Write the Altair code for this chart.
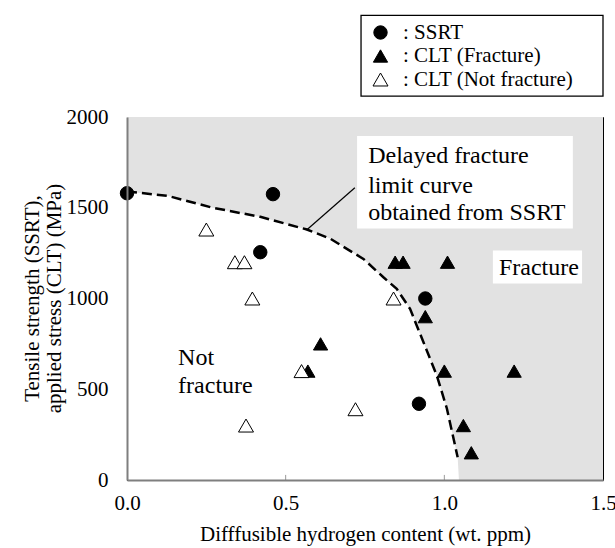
import altair as alt
import pandas as pd

FONT = "serif"

# ---- data ----
ssrt_x = [0.0, 0.46, 0.42, 0.94, 0.92]
ssrt_y = [1580, 1575, 1255, 1000, 420]
cltf_x = [0.845, 0.87, 1.01, 0.94, 0.61, 0.57, 1.0, 1.22, 1.06, 1.085]
cltf_y = [1200, 1200, 1200, 900, 750, 600, 600, 600, 300, 150]
cltn_x = [0.25, 0.34, 0.37, 0.395, 0.84, 0.55, 0.72, 0.375]
cltn_y = [1380, 1200, 1200, 1000, 1000, 600, 390, 300]

curve_x = [0.0, 0.13, 0.27, 0.42, 0.567, 0.64, 0.745, 0.808, 0.85, 0.892, 0.934, 0.976,
           1.008, 1.042]
curve_y = [1590, 1565, 1500, 1450, 1380, 1330, 1218, 1117, 1053, 943, 760, 577,
           394, 125]
hatch_x = curve_x + [1.046, 1.5]
hatch_y = curve_y + [0, 0]

series_names = ["SSRT", "CLT (Fracture)", "CLT (Not fracture)"]
x_ticks = [0.0, 0.5, 1.0, 1.5]
y_ticks = [0, 500, 1000, 1500, 2000]

pts = pd.DataFrame(
    {"x": ssrt_x + cltf_x + cltn_x,
     "y": ssrt_y + cltf_y + cltn_y,
     "series": [series_names[0]] * len(ssrt_x)
     + [series_names[1]] * len(cltf_x)
     + [series_names[2]] * len(cltn_x)}
)
curve = pd.DataFrame({"x": curve_x, "y": curve_y})
hatch = pd.DataFrame({"x": hatch_x, "y": hatch_y, "top": [2000] * len(hatch_x)})

boxes = pd.DataFrame({"x": [0.725, 1.153], "x2": [1.405, 1.434],
                      "y": [1385, 1082], "y2": [1896, 1264]})
legend_frame = pd.DataFrame({"x": [0.7375], "x2": [1.5], "y": [2115], "y2": [2560]})
leader = pd.DataFrame({"x": [0.566], "x2": [0.718], "y": [1377], "y2": [1610]})
labels = pd.DataFrame({
    "x": [0.76, 0.76, 0.76, 1.172, 0.161, 0.161],
    "y": [1786, 1621, 1473, 1170, 670, 516],
    "t": ["Delayed fracture", "limit curve", "obtained from SSRT", "Fracture",
          "Not", "fracture"],
})
tick_df = pd.DataFrame({"x": [0.5, 1.0], "y": [0, 0], "y2": [28, 28]})

xs = alt.Scale(domain=[0, 1.5], nice=False)
ys = alt.Scale(domain=[0, 2000], nice=False)

x_axis = alt.Axis(values=x_ticks, format=".1f", grid=False, ticks=False, tickSize=0,
                  labelFlush=False, labelOverlap=False,
                  labelPadding=12, labelFont=FONT, labelFontSize=21, labelColor="black",
                  domainColor="#7f7f7f", domainWidth=2, title="Difffusible hydrogen content (wt. ppm)",
                  titleFont=FONT, titleFontSize=21, titleFontWeight="normal",
                  titleColor="black", titlePadding=10, zindex=1)
y_axis = alt.Axis(values=y_ticks, format="d", grid=False, ticks=False, tickSize=0,
                  labelFlush=False, labelOverlap=False,
                  labelPadding=19, labelFont=FONT, labelFontSize=21, labelColor="black",
                  domainColor="#7f7f7f", domainWidth=2,
                  title=["Tensile strength (SSRT),", "applied stress (CLT) (MPa)"],
                  titleFont=FONT, titleFontSize=21, titleFontWeight="normal",
                  titleColor="black", titleAngle=270, titleX=-95, titleY=181,
                  titleAlign="center", titleBaseline="middle", titleLineHeight=22, zindex=1)

hatch_layer = alt.Chart(hatch).mark_area(color="#e2e2e2", opacity=1).encode(
    x=alt.X("x:Q", scale=xs, axis=x_axis),
    y=alt.Y("y:Q", scale=ys, axis=y_axis),
    y2="top:Q",
)
box_layer = alt.Chart(boxes).mark_rect(color="white").encode(
    x="x:Q", x2="x2:Q", y="y:Q", y2="y2:Q")
frame_layer = alt.Chart(legend_frame).mark_rect(fill="white", stroke="black",
                                                strokeWidth=1.3).encode(
    x="x:Q", x2="x2:Q", y="y:Q", y2="y2:Q")
leader_layer = alt.Chart(leader).mark_rule(color="black", strokeWidth=1.2).encode(
    x="x:Q", x2="x2:Q", y="y:Q", y2="y2:Q")
curve_layer = alt.Chart(curve).mark_line(color="black", strokeWidth=2.5,
                                         strokeDash=[10, 5]).encode(x="x:Q", y="y:Q")
tick_layer = alt.Chart(tick_df).mark_rule(color="#9a9a9a", strokeWidth=1).encode(
    x="x:Q", y="y:Q", y2="y2:Q")

leg = alt.Legend(title=None, orient="none", legendX=234, legendY=-104,
                 labelExpr="': ' + datum.label",
                 labelFont=FONT, labelFontSize=21, labelColor="black",
                 padding=9, rowPadding=1.5, labelOffset=12, symbolStrokeColor="black",
                 symbolStrokeWidth=1, symbolOpacity=1, labelLimit=400)
point_layer = alt.Chart(pts).mark_point(filled=True, opacity=1, strokeWidth=1).encode(
    x="x:Q", y="y:Q",
    shape=alt.Shape("series:N", scale=alt.Scale(domain=series_names,
                    range=["circle", "triangle-up", "triangle-up"]), legend=leg),
    fill=alt.Fill("series:N", scale=alt.Scale(domain=series_names,
                  range=["black", "black", "white"]), legend=leg),
    stroke=alt.Stroke("series:N", scale=alt.Scale(domain=series_names,
                      range=["black", "black", "black"]), legend=leg),
    size=alt.Size("series:N", scale=alt.Scale(domain=series_names,
                  range=[180, 225, 225]), legend=leg),
)
text_layer = alt.Chart(labels).mark_text(align="left", baseline="middle", font=FONT,
                                         fontSize=24, color="black").encode(
    x="x:Q", y="y:Q", text="t:N")

chart = alt.layer(hatch_layer, box_layer, frame_layer, leader_layer, curve_layer,
                  tick_layer, point_layer, text_layer).properties(
    width=476, height=363,
    autosize=alt.AutoSizeParams(type="none"),
    padding={"left": 127, "top": 117, "right": 12, "bottom": 68},
    background="white",
).configure(font=FONT).configure_view(stroke="black", strokeWidth=1)

chart.save("out.html", embed_options={"renderer": "svg", "actions": False})
